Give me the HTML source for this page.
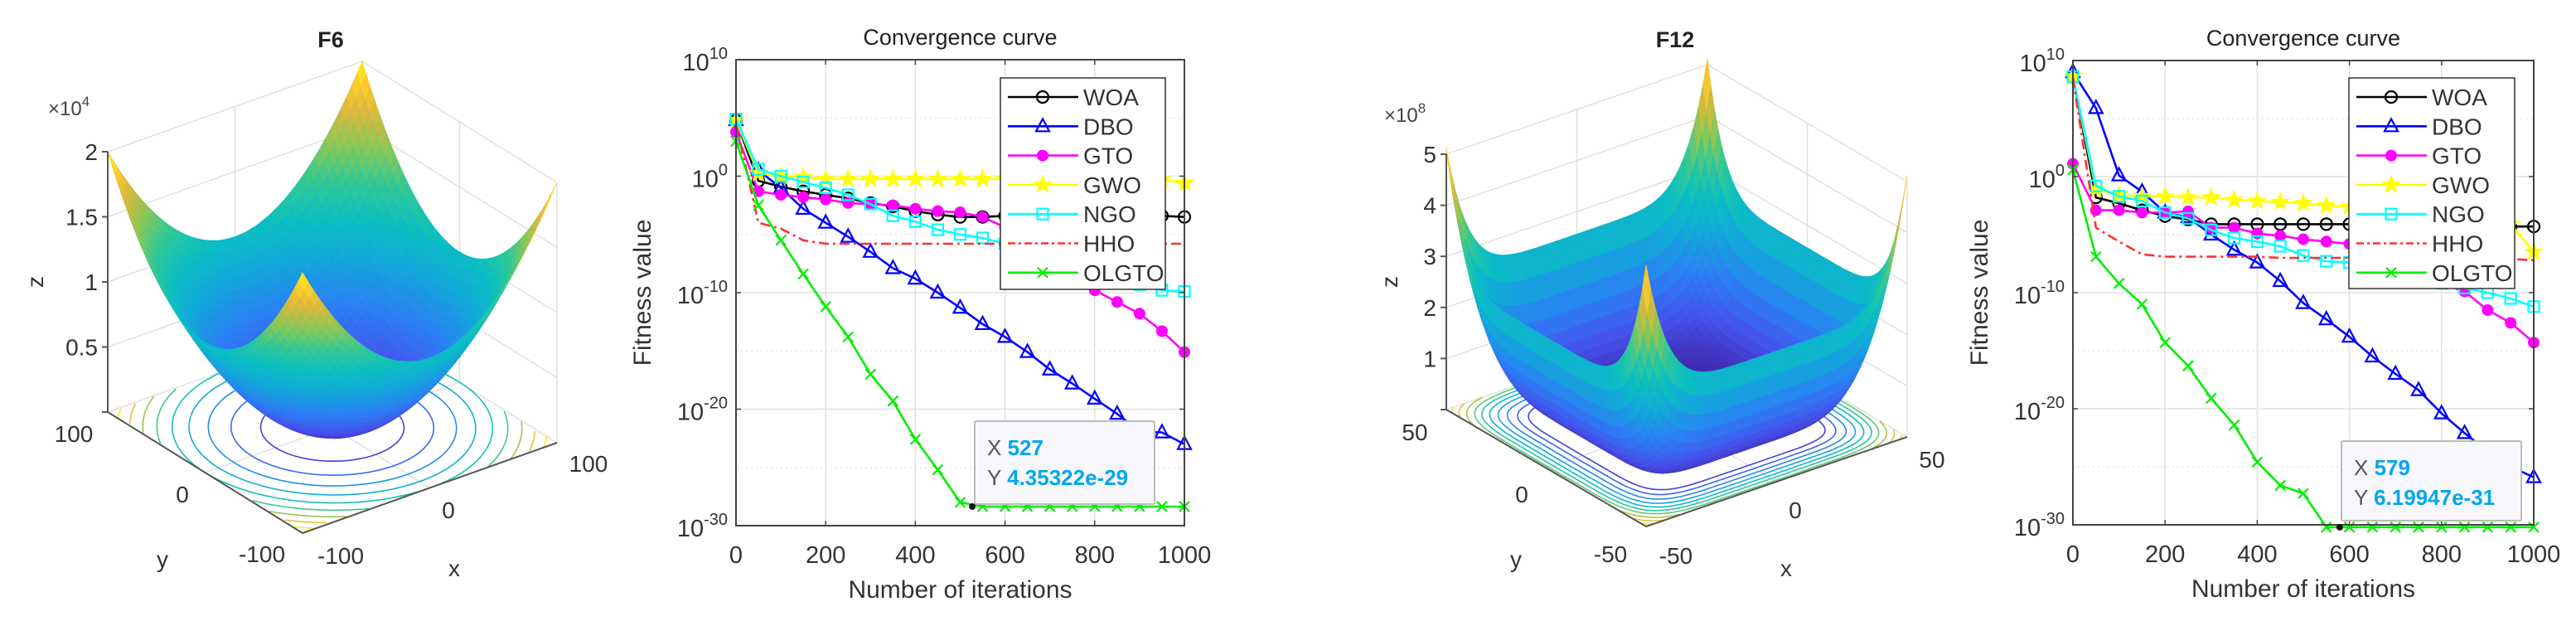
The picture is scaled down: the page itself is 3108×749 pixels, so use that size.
<!DOCTYPE html>
<html><head><meta charset="utf-8"><title>F6 / F12 convergence</title>
<style>
html,body{margin:0;padding:0;background:#fff;}
svg{display:block;font-family:"Liberation Sans",Arial,sans-serif;}
</style></head>
<body>
<svg id="fig" xmlns="http://www.w3.org/2000/svg" width="3108" height="749" viewBox="0 0 3108 749">
<rect x="0" y="0" width="3108" height="749" fill="#fff"/>
<g id="p1"></g>
<g id="c1"></g>
<g id="p2"></g>
<g id="c2"></g>
</svg>
<script>
// ---------- Convergence data (log10 of fitness) ----------
const iterations = [0,50,100,150,200,250,300,350,400,450,500,550,600,650,700,750,800,850,900,950,1000];
const xTicks = [0,200,400,600,800,1000];
const yTickExps = [10,0,-10,-20,-30];
const seriesNames = ["WOA","DBO","GTO","GWO","NGO","HHO","OLGTO"];

const f6WOA   = [4.8,-0.4,-0.9,-1.3,-1.6,-1.9,-2.3,-2.6,-3.0,-3.3,-3.5,-3.5,-3.4,-3.4,-3.4,-3.4,-3.4,-3.4,-3.4,-3.4,-3.5];
const f6DBO   = [4.8,0.5,-1.0,-2.8,-4.0,-5.2,-6.5,-7.9,-8.8,-10.0,-11.3,-12.7,-13.8,-15.1,-16.6,-17.8,-19.1,-20.4,-21.9,-22.0,-23.0];
const f6GTO   = [3.8,-1.3,-1.6,-1.8,-2.0,-2.3,-2.4,-2.5,-2.8,-3.0,-3.1,-3.5,-4.4,-5.5,-7.0,-8.5,-9.8,-10.8,-11.8,-13.3,-15.1];
const f6GWO   = [4.8,0.25,0.0,-0.1,-0.25,-0.25,-0.25,-0.25,-0.25,-0.25,-0.25,-0.25,-0.25,-0.3,-0.3,-0.3,-0.3,-0.3,-0.3,-0.3,-0.6];
const f6NGO   = [4.9,0.6,0.0,-0.5,-1.0,-1.6,-2.4,-3.4,-3.9,-4.6,-5.0,-5.3,-5.8,-6.0,-6.5,-7.0,-7.8,-8.5,-9.3,-9.8,-9.9];
const f6HHO   = [4.5,-4.0,-4.5,-5.5,-5.8,-5.8,-5.8,-5.8,-5.8,-5.8,-5.8,-5.8,-5.8,-5.8,-5.8,-5.8,-5.8,-5.8,-5.8,-5.8,-5.8];
const f6OLGTO = [3.0,-2.5,-5.5,-8.4,-11.2,-13.8,-17.0,-19.3,-22.6,-25.2,-28.0,-28.36,-28.36,-28.36,-28.36,-28.36,-28.36,-28.36,-28.36,-28.36,-28.36];
const f6TipX = 527;
const f6TipY = 4.35322e-29;

const f12WOA   = [8.6,-1.8,-2.3,-2.9,-3.4,-3.7,-4.1,-4.1,-4.1,-4.1,-4.1,-4.1,-4.1,-4.1,-4.1,-4.1,-4.1,-4.2,-4.2,-4.3,-4.3];
const f12DBO   = [9.0,5.9,0.1,-1.3,-3.1,-3.5,-5.0,-6.3,-7.4,-9.0,-10.9,-12.3,-13.8,-15.5,-17.0,-18.4,-20.4,-22.1,-23.7,-25.0,-25.9];
const f12GTO   = [1.1,-2.9,-2.9,-3.1,-3.1,-3.0,-4.4,-4.4,-4.9,-5.1,-5.4,-5.6,-5.8,-6.5,-7.3,-8.2,-9.2,-9.9,-11.5,-12.6,-14.3];
const f12GWO   = [8.6,-1.1,-1.6,-1.7,-1.7,-1.8,-1.8,-2.0,-2.1,-2.2,-2.3,-2.5,-2.6,-2.8,-3.0,-3.2,-3.5,-3.7,-3.9,-4.1,-6.5];
const f12NGO   = [8.6,-0.8,-1.7,-2.1,-3.1,-3.6,-4.6,-5.3,-5.6,-6.0,-6.8,-7.3,-7.4,-7.8,-8.2,-8.7,-9.2,-9.6,-10.0,-10.5,-11.2];
const f12HHO   = [8.5,-4.4,-5.6,-6.7,-6.9,-6.9,-6.9,-6.9,-6.9,-7.0,-7.0,-7.0,-7.0,-7.0,-7.0,-7.0,-7.0,-7.1,-7.1,-7.1,-7.2];
const f12OLGTO = [0.6,-6.9,-9.2,-11.0,-14.3,-16.3,-19.1,-21.4,-24.6,-26.6,-27.3,-30.2,-30.2,-30.2,-30.2,-30.2,-30.2,-30.2,-30.2,-30.2,-30.2];
const f12TipX = 579;
const f12TipY = 6.19947e-31;

const NS = "http://www.w3.org/2000/svg";
function mk(parent, tag, attrs, text){
  const e = document.createElementNS(NS, tag);
  for (const k in attrs) e.setAttribute(k, attrs[k]);
  if (text !== undefined) e.textContent = text;
  parent.appendChild(e);
  return e;
}

const styles = {
  WOA:{c:"#000000",m:"circle"}, DBO:{c:"#0000ff",m:"tri"}, GTO:{c:"#ff00ff",m:"dot"},
  GWO:{c:"#ffff00",m:"star"}, NGO:{c:"#00ffff",m:"square"}, HHO:{c:"#ff3030",m:"none",dash:"12,5,3,5"},
  OLGTO:{c:"#00ee00",m:"x"}
};

function marker(g, type, x, y, c){
  let e;
  if (type==="circle") e = mk(g,"circle",{cx:x,cy:y,r:7,fill:"none",stroke:c,"stroke-width":2.2});
  else if (type==="tri") e = mk(g,"polygon",{points:`${x},${y-9} ${x+8},${y+6} ${x-8},${y+6}`,fill:"none",stroke:c,"stroke-width":2.2});
  else if (type==="dot") e = mk(g,"circle",{cx:x,cy:y,r:6.5,fill:c,stroke:c,"stroke-width":1});
  else if (type==="square") e = mk(g,"rect",{x:x-6.5,y:y-6.5,width:13,height:13,fill:"none",stroke:c,"stroke-width":2.2});
  else if (type==="star"){
    let p=[];
    for(let k=0;k<10;k++){const r=k%2?4.5:11;const a=-Math.PI/2+k*Math.PI/5;p.push((x+r*Math.cos(a)).toFixed(1)+","+(y+r*Math.sin(a)).toFixed(1));}
    e = mk(g,"polygon",{points:p.join(" "),fill:c,stroke:c,"stroke-width":1});
  } else if (type==="x"){
    e = mk(g,"path",{d:`M${x-6},${y-6}L${x+6},${y+6}M${x-6},${y+6}L${x+6},${y-6}`,stroke:c,"stroke-width":2.2,fill:"none"});
  }
  return e;
}

function drawConv(g, A, data, tipX, tipY, tipBox, legendBox){
  const xs = v => A.L + (v-0)/(1000-0)*(A.R-A.L);
  const ys = e => A.T + (10-e)/40*(A.B-A.T);
  const T = mk(g,"text",{x:(A.L+A.R)/2,y:A.T-18,"text-anchor":"middle","font-size":27,fill:"#222"},"Convergence curve");
  
  
  const grid = mk(g,"g",{});
  
  
  for (const t of xTicks){ if(t>0&&t<1000) mk(grid,"line",{x1:xs(t),x2:xs(t),y1:A.T,y2:A.B,stroke:"#e2e2e2","stroke-width":1.5}); }
  for (const e of yTickExps){ if(e<10&&e>-30) mk(grid,"line",{x1:A.L,x2:A.R,y1:ys(e),y2:ys(e),stroke:"#e2e2e2","stroke-width":1.5}); }
  for (const e of [5,-5,-15,-25]) mk(grid,"line",{x1:A.L,x2:A.R,y1:ys(e),y2:ys(e),stroke:"#e4e4e4","stroke-width":1.5,"stroke-dasharray":"2,4"});
  seriesNames.forEach((nm,i)=>{
    const st = styles[nm], vals = data[i];
    const sg = mk(g,"g",{});
    
    
    const pts = iterations.map((it,k)=>xs(it).toFixed(1)+","+ys(vals[k]).toFixed(1)).join(" ");
    const pl = mk(sg,"polyline",{points:pts,fill:"none",stroke:st.c,"stroke-width":2.6,"stroke-linejoin":"round"});
    if (st.dash) pl.setAttribute("stroke-dasharray",st.dash);
    if (st.m!=="none") iterations.forEach((it,k)=>{ marker(sg,st.m,xs(it),ys(vals[k]),st.c); });
  });
  const ax = mk(g,"rect",{x:A.L,y:A.T,width:A.R-A.L,height:A.B-A.T,fill:"none",stroke:"#444","stroke-width":2});
  
  
  for (const t of xTicks){
    mk(g,"line",{x1:xs(t),x2:xs(t),y1:A.B,y2:A.B-6,stroke:"#444","stroke-width":1.5});
    mk(g,"line",{x1:xs(t),x2:xs(t),y1:A.T,y2:A.T+6,stroke:"#444","stroke-width":1.5});
    const tl = mk(g,"text",{x:xs(t),y:A.B+45,"text-anchor":"middle","font-size":29,fill:"#333"},String(t));
    
    
  }
  for (const e of yTickExps){
    mk(g,"line",{x1:A.L,x2:A.L+6,y1:ys(e),y2:ys(e),stroke:"#444","stroke-width":1.5});
    mk(g,"line",{x1:A.R,x2:A.R-6,y1:ys(e),y2:ys(e),stroke:"#444","stroke-width":1.5});
    const tl = mk(g,"text",{x:A.L-10,y:ys(e)+13,"text-anchor":"end","font-size":29,fill:"#333"});
    
    
    mk(tl,"tspan",{},"10");
    mk(tl,"tspan",{dy:-14,"font-size":20},String(e));
  }
  const xl = mk(g,"text",{x:(A.L+A.R)/2,y:A.B+87,"text-anchor":"middle","font-size":30,fill:"#333"},"Number of iterations");
  
  
  const yl = mk(g,"text",{x:0,y:0,"text-anchor":"middle","font-size":30,fill:"#333",transform:`translate(${A.ylx},${(A.T+A.B)/2}) rotate(-90)`},"Fitness value");
  
  
  const lg = mk(g,"g",{});
  
  
  mk(lg,"rect",{x:legendBox[0],y:legendBox[1],width:legendBox[2],height:legendBox[3],fill:"#fff",stroke:"#333","stroke-width":1.5});
  seriesNames.forEach((nm,i)=>{
    const st = styles[nm];
    const ent = mk(lg,"g",{});
    
    
    const y = legendBox[1]+23+i*35.3;
    const x0 = legendBox[0]+9;
    const ln = mk(ent,"line",{x1:x0,x2:x0+85,y1:y,y2:y,stroke:st.c,"stroke-width":2.6});
    if (st.dash) ln.setAttribute("stroke-dasharray","9,4,3,4");
    if (st.m!=="none") marker(ent,st.m,x0+42,y,st.c);
    mk(ent,"text",{x:x0+91,y:y+10,"font-size":28,fill:"#333"},nm);
  });
  const dt = mk(g,"g",{});
  
  
  const py = ys(Math.log10(tipY));
  mk(dt,"rect",{x:tipBox[0],y:tipBox[1],width:tipBox[2],height:tipBox[3],fill:"#f8f8fc",stroke:"#bbb","stroke-width":2,rx:2});
  mk(dt,"circle",{cx:xs(tipX),cy:py,r:4,fill:"#111"});
  const t1 = mk(dt,"text",{x:tipBox[0]+15,y:tipBox[1]+41,"font-size":26,fill:"#555"});
  mk(t1,"tspan",{},"X ");
  mk(t1,"tspan",{fill:"#00a6f0","font-weight":"bold"},String(tipX));
  const t2 = mk(dt,"text",{x:tipBox[0]+15,y:tipBox[1]+77,"font-size":26,fill:"#555"});
  mk(t2,"tspan",{},"Y ");
  mk(t2,"tspan",{fill:"#00a6f0","font-weight":"bold"},String(tipY));
}

drawConv(document.getElementById("c1"),{L:888,R:1429,T:72,B:634,ylx:785},
  [f6WOA,f6DBO,f6GTO,f6GWO,f6NGO,f6HHO,f6OLGTO], f6TipX, f6TipY, [1176,508,217,100],[1207,94,199,255]);
drawConv(document.getElementById("c2"),{L:2501,R:3057,T:73,B:633,ylx:2398},
  [f12WOA,f12DBO,f12GTO,f12GWO,f12NGO,f12HHO,f12OLGTO], f12TipX, f12TipY, [2825,532,217,96],[2834,94,200,254]);

// ---------- 3D surfaces ----------
const parulaStops = [[0,[62,38,168]],[0.12,[70,80,235]],[0.25,[45,125,245]],[0.38,[20,165,220]],[0.5,[10,190,195]],[0.62,[50,200,150]],[0.72,[130,200,90]],[0.84,[220,185,60]],[0.93,[253,205,45]],[1,[249,251,14]]];
function parula(t){
  t=Math.max(0,Math.min(1,t));
  for(let i=1;i<parulaStops.length;i++){
    if(t<=parulaStops[i][0]){
      const a=parulaStops[i-1],b=parulaStops[i],f=(t-a[0])/(b[0]-a[0]);
      const c=a[1].map((v,k)=>Math.round(v+(b[1][k]-v)*f));
      return `rgb(${c[0]},${c[1]},${c[2]})`;
    }
  }
  return "rgb(249,251,14)";
}

function draw3D(g, o){
  const P=(u,v,z)=>[o.front[0]+(u+1)*o.ex[0]+(v+1)*o.ey[0], o.front[1]+(u+1)*o.ex[1]+(v+1)*o.ey[1]-z*o.zpx];
  const pt=p=>p[0].toFixed(1)+","+p[1].toFixed(1);
  const ttl = mk(g,"text",{x:o.title[0],y:o.title[1],"text-anchor":"middle","font-size":27,"font-weight":"bold",fill:"#222"},o.name);
  
  
  const wg = mk(g,"g",{stroke:"#e0e0e0","stroke-width":1.5,fill:"none"});
  
  
  const zTop=o.zAxisMax;
  for(const u of [-1,0,1]){ mk(wg,"line",{x1:P(u,1,0)[0],y1:P(u,1,0)[1],x2:P(u,1,zTop)[0],y2:P(u,1,zTop)[1]}); }
  for(const v of [-1,0,1]){ mk(wg,"line",{x1:P(1,v,0)[0],y1:P(1,v,0)[1],x2:P(1,v,zTop)[0],y2:P(1,v,zTop)[1]}); }
  for(const z of o.zTicks){
    mk(wg,"polyline",{points:[P(-1,1,z),P(1,1,z),P(1,-1,z)].map(pt).join(" ")});
  }
  mk(wg,"polyline",{points:[P(0,-1,0),P(0,1,0)].map(pt).join(" ")});
  mk(wg,"polyline",{points:[P(-1,0,0),P(1,0,0)].map(pt).join(" ")});
  const cg = mk(g,"g",{fill:"none","stroke-width":1.6});
  
  
  o.levels.forEach((lv,i)=>{
    const col=parula(0.08+0.9*i/(o.levels.length-1));
    o.contour(lv).forEach(seg=>{ if(seg.length>1) mk(cg,"polyline",{points:seg.map(q=>pt(P(q[0],q[1],0))).join(" "),stroke:col}); });
  });
  const sg = mk(g,"g",{});
  
  
  const n=o.n, quads=[];
  for(let i=0;i<n;i++)for(let j=0;j<n;j++){
    const u0=-1+2*i/n,u1=-1+2*(i+1)/n,v0=-1+2*j/n,v1=-1+2*(j+1)/n;
    const zs=[o.f(u0,v0),o.f(u1,v0),o.f(u1,v1),o.f(u0,v1)];
    quads.push({d:u0+u1+v0+v1, pts:[P(u0,v0,zs[0]),P(u1,v0,zs[1]),P(u1,v1,zs[2]),P(u0,v1,zs[3])], z:(zs[0]+zs[1]+zs[2]+zs[3])/4});
  }
  quads.sort((a,b)=>b.d-a.d);
  for(const q of quads){
    const c=parula(q.z/o.cmax);
    mk(sg,"polygon",{points:q.pts.map(pt).join(" "),fill:c,stroke:c,"stroke-width":0.8});
  }
  const ag = mk(g,"g",{stroke:"#555","stroke-width":2,fill:"none"});
  
  
  mk(ag,"polyline",{points:[P(-1,1,zTop),P(-1,1,0),P(-1,-1,0),P(1,-1,0)].map(pt).join(" ")});
  for(const z of o.zTicks){
    const p=P(-1,1,z);
    mk(ag,"line",{x1:p[0]-7,y1:p[1],x2:p[0],y2:p[1]});
  }
  const lab = mk(g,"g",{"font-size":28,fill:"#333"});
  
  
  o.zTicks.forEach((z,i)=>{ if(o.zLabels[i]!=="") { const p=P(-1,1,z); mk(lab,"text",{x:p[0]-12,y:p[1]+10,"text-anchor":"end"},o.zLabels[i]); } });
  const ex = mk(lab,"text",{x:o.exp[0],y:o.exp[1],"font-size":24,fill:"#444"});
  mk(ex,"tspan",{},"×10");
  mk(ex,"tspan",{dy:-11,"font-size":17},o.expNum);
  o.xLab.forEach(t=>mk(lab,"text",{x:t[0],y:t[1],"text-anchor":"middle"},t[2]));
  const zl = mk(lab,"text",{x:0,y:0,"text-anchor":"middle",transform:`translate(${o.zl[0]},${o.zl[1]}) rotate(-90)`},"z");
  
  
}

draw3D(document.getElementById("p1"),{
  name:"F6", title:[399,57], front:[365,643], ex:[153.5,-54.5], ey:[-117.5,-73], zpx:314/20000,
  zAxisMax:20000, zTicks:[0,5000,10000,15000,20000], zLabels:["","0.5","1","1.5","2"], cmax:20000, n:48,
  f:(u,v)=>{const x=100*u,y=100*v;return x*x+y*y;},
  levels:[2000,4000,6000,8000,10000,12000,14000,16000,18000],
  contour:(lv)=>{const r=Math.sqrt(lv/10000);const segs=[];let cur=[];
    for(let k=0;k<=240;k++){const a=k/240*2*Math.PI;const u=r*Math.cos(a),v=r*Math.sin(a);
      if(Math.abs(u)<=1&&Math.abs(v)<=1)cur.push([u,v]);else{if(cur.length)segs.push(cur);cur=[];}}
    if(cur.length)segs.push(cur);return segs;},
  exp:[58,139], expNum:"4",
  xLab:[[710,569,"100"],[541,625,"0"],[411,680,"-100"],[548,695,"x"],[89,533,"100"],[220,606,"0"],[316,678,"-100"],[196,684,"y"]],
  zl:[52,340]
});

const g12=x=>2.56e8*Math.pow(Math.abs(x)/50,6);
const g12inv=val=>50*Math.pow(val/2.56e8,1/6);
draw3D(document.getElementById("p2"),{
  name:"F12", title:[2021,57], front:[1986,635], ex:[157.5,-54], ey:[-120.5,-70.5], zpx:308/5e8,
  zAxisMax:5e8, zTicks:[0,1e8,2e8,3e8,4e8,5e8], zLabels:["","1","2","3","4","5"], cmax:5.12e8, n:56,
  f:(u,v)=>g12(50*u)+g12(50*v),
  levels:[3.6e7,5.5e7,8e7,1.1e8,1.45e8,1.85e8,2.3e8,2.9e8,3.6e8,4.4e8],
  contour:(lv)=>{const segs=[];
    for(const sx of [1,-1])for(const sy of [1,-1]){const cur=[];
      for(let k=0;k<=60;k++){const a=lv*k/60;const x=g12inv(a),y=g12inv(lv-a);
        if(x<=50&&y<=50)cur.push([sx*x/50,sy*y/50]);}
      if(cur.length)segs.push(cur);}
    return segs;},
  exp:[1670,147], expNum:"8",
  xLab:[[2331,564,"50"],[2166,625,"0"],[2022,680,"-50"],[2155,695,"x"],[1707,531,"50"],[1836,606,"0"],[1943,678,"-50"],[1829,684,"y"]],
  zl:[1686,340]
});
</script>
</body></html>
